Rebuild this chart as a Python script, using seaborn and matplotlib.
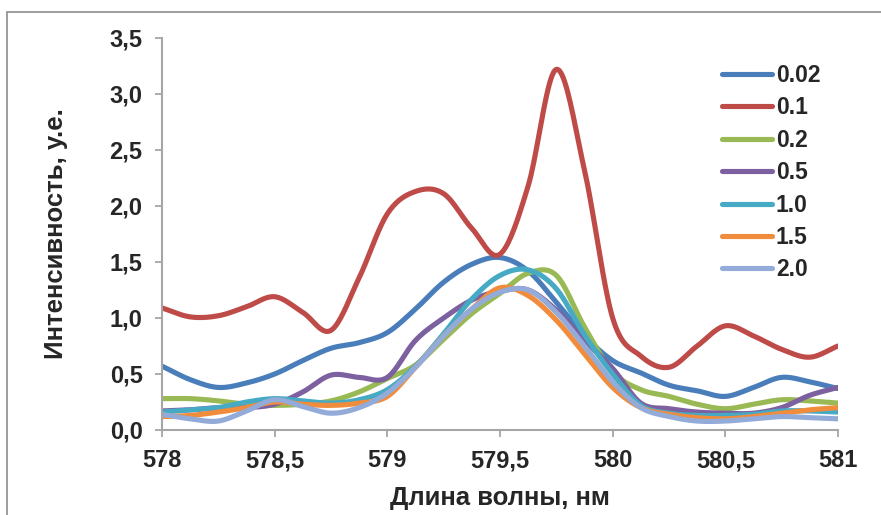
import numpy as np
import pandas as pd
import matplotlib
matplotlib.use("Agg")
import matplotlib.pyplot as plt
import seaborn as sns
from matplotlib.patches import Rectangle
from matplotlib.lines import Line2D

# ---- data ----
wavelength = [578.0, 578.125, 578.25, 578.375, 578.5, 578.625, 578.75, 578.875,
              579.0, 579.125, 579.25, 579.375, 579.5, 579.625, 579.75, 579.875,
              580.0, 580.125, 580.25, 580.375, 580.5, 580.625, 580.75, 580.875, 581.0]

s_002 = [0.57, 0.45, 0.38, 0.42, 0.50, 0.62, 0.73, 0.78, 0.87, 1.08, 1.32, 1.48, 1.54,
         1.42, 1.14, 0.84, 0.62, 0.51, 0.40, 0.35, 0.30, 0.38, 0.47, 0.43, 0.37]
s_01 = [1.09, 1.01, 1.02, 1.10, 1.19, 1.05, 0.89, 1.36, 1.93, 2.13, 2.11, 1.80, 1.57,
        2.18, 3.22, 2.32, 1.00, 0.66, 0.56, 0.75, 0.93, 0.84, 0.72, 0.65, 0.75]
s_02 = [0.28, 0.28, 0.26, 0.23, 0.22, 0.23, 0.26, 0.34, 0.46, 0.58, 0.81, 1.04, 1.22,
        1.40, 1.38, 0.92, 0.52, 0.36, 0.30, 0.23, 0.19, 0.23, 0.27, 0.26, 0.24]
s_05 = [0.17, 0.18, 0.20, 0.20, 0.23, 0.34, 0.49, 0.47, 0.47, 0.80, 1.00, 1.16, 1.24,
        1.25, 1.07, 0.80, 0.55, 0.24, 0.19, 0.16, 0.15, 0.15, 0.20, 0.31, 0.38]
s_10 = [0.16, 0.18, 0.20, 0.25, 0.28, 0.26, 0.24, 0.27, 0.36, 0.57, 0.86, 1.17, 1.38,
        1.43, 1.26, 0.85, 0.50, 0.22, 0.15, 0.13, 0.13, 0.14, 0.17, 0.17, 0.16]
s_15 = [0.12, 0.13, 0.16, 0.20, 0.25, 0.23, 0.22, 0.24, 0.30, 0.56, 0.84, 1.08, 1.27,
        1.20, 0.98, 0.68, 0.38, 0.20, 0.14, 0.11, 0.10, 0.12, 0.15, 0.18, 0.20]
s_20 = [0.14, 0.10, 0.08, 0.17, 0.27, 0.21, 0.15, 0.20, 0.33, 0.56, 0.84, 1.08, 1.23,
        1.25, 1.05, 0.75, 0.43, 0.20, 0.12, 0.08, 0.08, 0.10, 0.12, 0.11, 0.10]

series_labels = ["0.02", "0.1", "0.2", "0.5", "1.0", "1.5", "2.0"]
series_values = [s_002, s_01, s_02, s_05, s_10, s_15, s_20]
colors = ["#4A7EBB", "#BE4B48", "#98B954", "#7D60A0", "#46AAC5", "#F08C3C", "#93ABD8"]

x_ticks = [578, 578.5, 579, 579.5, 580, 580.5, 581]
x_ticklabels = ["578", "578,5", "579", "579,5", "580", "580,5", "581"]
y_ticks = [0.0, 0.5, 1.0, 1.5, 2.0, 2.5, 3.0, 3.5]
y_ticklabels = ["0,0", "0,5", "1,0", "1,5", "2,0", "2,5", "3,0", "3,5"]


def smooth_line(x, y, n=20):
    """Catmull-Rom smoothing between the data points (like Excel's smoothed line)."""
    x = np.asarray(x, float)
    y = np.asarray(y, float)
    px = np.concatenate([[2 * x[0] - x[1]], x, [2 * x[-1] - x[-2]]])
    py = np.concatenate([[2 * y[0] - y[1]], y, [2 * y[-1] - y[-2]]])
    t = np.linspace(0, 1, n, endpoint=False)
    xs, ys = [], []
    for i in range(1, len(px) - 2):
        for arr, out in ((px, xs), (py, ys)):
            p0, p1, p2, p3 = arr[i - 1], arr[i], arr[i + 1], arr[i + 2]
            out.append(0.5 * (2 * p1 + (-p0 + p2) * t
                              + (2 * p0 - 5 * p1 + 4 * p2 - p3) * t ** 2
                              + (-p0 + 3 * p1 - 3 * p2 + p3) * t ** 3))
    xs.append([x[-1]])
    ys.append([y[-1]])
    return np.concatenate(xs), np.concatenate(ys)


frames = []
for lab, vals in zip(series_labels, series_values):
    sx, sy = smooth_line(wavelength, vals)
    frames.append(pd.DataFrame({"x": sx, "y": sy, "series": lab}))
df = pd.concat(frames, ignore_index=True)

sns.set_theme(style="white")
plt.rcParams["font.family"] = ["Liberation Sans", "DejaVu Sans"]
plt.rcParams["font.weight"] = "bold"

fig = plt.figure(figsize=(8.81, 5.15), dpi=100)
ax = fig.add_axes([162 / 881, 1 - 430 / 515, (838 - 162) / 881, (430 - 38) / 515])

sns.lineplot(data=df, x="x", y="y", hue="series", hue_order=series_labels,
             palette=colors, sort=False, estimator=None, linewidth=3.7,
             ax=ax, legend=False)

ax.set_xlim(578, 581)
ax.set_ylim(0, 3.5)
ax.set_xticks(x_ticks)
ax.set_xticklabels(x_ticklabels, fontsize=17, fontweight="bold")
ax.set_yticks(y_ticks)
ax.set_yticklabels(y_ticklabels, fontsize=17, fontweight="bold")
ax.tick_params(axis="x", direction="out", length=5, width=1.3, color="#A6A6A6",
               bottom=True, pad=9)
ax.tick_params(axis="y", direction="out", length=5, width=1.3, color="#A6A6A6",
               left=True, pad=9)
for s in ["top", "right"]:
    ax.spines[s].set_visible(False)
for s in ["left", "bottom"]:
    ax.spines[s].set_color("#A6A6A6")
    ax.spines[s].set_linewidth(1.5)

ax.set_xlabel("Длина волны, нм", fontsize=18.5, fontweight="bold", labelpad=10)
ax.set_ylabel("Интенсивность, у.е.", fontsize=18.5, fontweight="bold", labelpad=30)

handles = [Line2D([0], [0], color=c, lw=3.7) for c in colors]
leg = ax.legend(handles, series_labels, loc="upper left",
                bbox_to_anchor=(722 / 881, 1 - 64 / 515), bbox_transform=fig.transFigure,
                frameon=False, prop={"size": 16.5, "weight": "bold"},
                handlelength=2.2, handletextpad=0.15, labelspacing=0.41,
                borderpad=0, borderaxespad=0)

# outer chart-area frame
fig.patches.append(Rectangle((7 / 881, -0.02), 1.05, 1 - 12 / 515 + 0.02,
                             transform=fig.transFigure, fill=False,
                             edgecolor="#8C8C8C", linewidth=1.2, zorder=0))

fig.savefig("out.png", dpi=100)
